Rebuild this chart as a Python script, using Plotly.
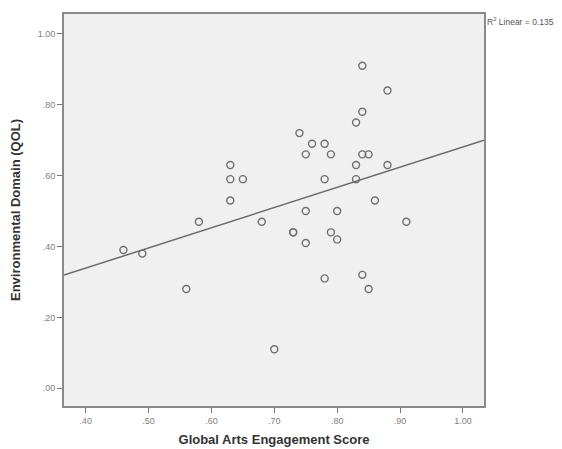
import numpy as np
import plotly.graph_objects as go

# Data
arts_score = [0.46, 0.49, 0.56, 0.58, 0.63, 0.63, 0.63, 0.65, 0.68, 0.70,
              0.73, 0.73, 0.74, 0.75, 0.75, 0.75, 0.76, 0.78, 0.78, 0.78,
              0.79, 0.79, 0.80, 0.80, 0.83, 0.83, 0.83, 0.84, 0.84, 0.84,
              0.84, 0.85, 0.85, 0.86, 0.88, 0.88, 0.91]
env_domain = [0.39, 0.38, 0.28, 0.47, 0.63, 0.59, 0.53, 0.59, 0.47, 0.11,
              0.44, 0.44, 0.72, 0.66, 0.50, 0.41, 0.69, 0.69, 0.59, 0.31,
              0.66, 0.44, 0.50, 0.42, 0.75, 0.63, 0.59, 0.91, 0.78, 0.66,
              0.32, 0.66, 0.28, 0.53, 0.84, 0.63, 0.47]

x_tickvals = [0.4, 0.5, 0.6, 0.7, 0.8, 0.9, 1.0]
x_ticktext = [".40", ".50", ".60", ".70", ".80", ".90", "1.00"]
y_tickvals = [0.0, 0.2, 0.4, 0.6, 0.8, 1.0]
y_ticktext = [".00", ".20", ".40", ".60", ".80", "1.00"]
r2_label = "R<sup>2</sup> Linear = 0.135"

x_range = [0.3655, 1.0335]
y_range = [-0.05, 1.056]

slope, intercept = np.polyfit(arts_score, env_domain, 1)
line_x = np.array(x_range)
line_y = slope * line_x + intercept

FONT = "Liberation Sans, Arial, sans-serif"

fig = go.Figure()
fig.add_trace(go.Scatter(
    x=line_x, y=line_y, mode="lines",
    line=dict(color="#6a6a6a", width=1.5), hoverinfo="skip", showlegend=False))
fig.add_trace(go.Scatter(
    x=arts_score, y=env_domain, mode="markers",
    marker=dict(symbol="circle-open", size=7, color="#6e6e6e", line=dict(width=1.4)),
    showlegend=False))

fig.add_annotation(x=1.0, y=1.0, xref="paper", yref="paper", xanchor="left", yanchor="middle",
                   xshift=1, yshift=-7, text=r2_label, showarrow=False,
                   font=dict(size=8.5, color="#555555", family=FONT))

axis_common = dict(showgrid=False, zeroline=False, showline=True, mirror=True,
                   linecolor="#8a8a8a", linewidth=2, ticks="outside", ticklen=5,
                   tickcolor="#777777", tickwidth=1,
                   tickfont=dict(size=9, color="#808080", family=FONT))

# The page body has an 8px default margin, so the figure is sized to fit the window
fig.update_layout(
    width=554, height=441,
    margin=dict(l=50, r=78, t=4, b=42),
    paper_bgcolor="white", plot_bgcolor="#f0f0f0",
    xaxis=dict(range=x_range, tickvals=x_tickvals, ticktext=x_ticktext,
               title=dict(text="<b>Global Arts Engagement Score</b>", standoff=10,
                          font=dict(size=13, color="#333333", family=FONT)),
               **axis_common),
    yaxis=dict(range=y_range, tickvals=y_tickvals, ticktext=y_ticktext,
               title=dict(text="<b>Environmental Domain (QOL)</b>", standoff=17,
                          font=dict(size=13, color="#333333", family=FONT)),
               **axis_common),
)

fig.write_html("out.html")
